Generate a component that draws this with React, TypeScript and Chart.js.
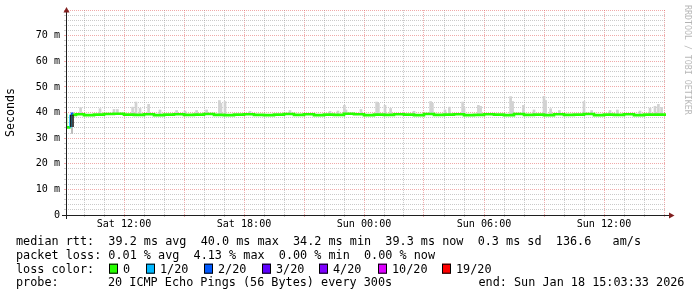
import React, { useEffect, useRef } from 'react';
import { Chart, registerables } from 'chart.js';

Chart.register(...registerables);

// ---------- data ----------
// time axis in hours since Sat 00:00
const X_MIN = 9.1;
const X_MAX = 39.1;

const xLabelHours = [12, 18, 24, 30, 36];
const xTickLabels = ['Sat 12:00', 'Sat 18:00', 'Sun 00:00', 'Sun 06:00', 'Sun 12:00'];

const yLabelValues = [0, 10, 20, 30, 40, 50, 60, 70];
const yTickLabels = ['0', '10 m', '20 m', '30 m', '40 m', '50 m', '60 m', '70 m'];

// median rtt (ms), stepped
const rttHours = [
  9.10, 9.33, 9.40, 9.48, 9.60, 10.0, 10.5, 11.0, 11.5, 12.0,
  12.5, 13.0, 13.5, 14.0, 14.5, 15.0, 15.5, 16.0, 16.5, 17.0,
  17.5, 18.0, 18.5, 19.0, 19.5, 20.0, 20.5, 21.0, 21.5, 22.0,
  22.5, 23.0, 23.5, 24.0, 24.5, 25.0, 25.5, 26.0, 26.5, 27.0,
  27.5, 28.0, 28.5, 29.0, 29.5, 30.0, 30.5, 31.0, 31.5, 32.0,
  32.5, 33.0, 33.5, 34.0, 34.5, 35.0, 35.5, 36.0, 36.5, 37.0,
  37.5, 38.0, 38.5, 39.1,
];
const rttMedian = [
  39.6, 34.2, 38.6, 39.5, 39.1, 39.3, 39.0, 39.2, 39.4, 39.5,
  39.2, 39.1, 39.3, 39.0, 39.2, 39.3, 39.1, 39.2, 39.4, 39.1,
  39.0, 39.2, 39.3, 39.1, 39.0, 39.2, 39.4, 39.1, 39.3, 39.0,
  39.2, 39.1, 39.5, 39.3, 39.0, 39.2, 39.1, 39.3, 39.2, 39.0,
  39.4, 39.1, 39.2, 39.3, 39.0, 39.1, 39.3, 39.2, 39.0, 39.4,
  39.1, 39.2, 39.0, 39.3, 39.1, 39.2, 39.4, 39.0, 39.2, 39.1,
  39.3, 39.0, 39.2, 39.2,
];
// index into lossColors
const rttLoss = [
  0, 1, 2, 0, 0, 0, 0, 0, 0, 0,
  0, 0, 0, 0, 0, 0, 0, 0, 0, 0,
  0, 0, 0, 0, 0, 0, 0, 0, 0, 0,
  0, 0, 0, 0, 0, 0, 0, 0, 0, 0,
  0, 0, 0, 0, 0, 0, 0, 0, 0, 0,
  0, 0, 0, 0, 0, 0, 0, 0, 0, 0,
  0, 0, 0, 0,
];

// smoke spikes (max ping per interval, ms)
const smokeBase = 39.2;
const smokeHours = [
  9.83, 10.80, 11.50, 11.67, 12.43, 12.60, 12.80, 13.23, 13.80, 14.63,
  15.05, 15.63, 16.13, 16.77, 16.85, 17.05, 18.30, 20.30, 22.30, 22.70,
  23.02, 23.10, 23.85, 24.63, 24.72, 25.05, 25.33, 26.50, 27.33, 27.42,
  28.05, 28.27, 28.93, 29.00, 29.72, 29.83, 31.33, 31.43, 31.97, 32.50,
  33.00, 33.08, 33.33, 33.77, 35.00, 35.38, 36.30, 36.67, 37.80, 38.30,
  38.55, 38.72, 38.88,
];
const smokeTops = [
  41.9, 41.5, 41.2, 41.2, 42.1, 44.1, 41.6, 43.2, 41.0, 40.8,
  40.6, 40.8, 41.0, 44.7, 43.6, 44.3, 40.5, 40.8, 40.5, 40.6,
  42.8, 41.0, 41.2, 44.1, 43.6, 42.8, 41.6, 40.5, 44.3, 43.6,
  41.0, 42.1, 44.1, 42.0, 42.8, 42.4, 46.2, 44.3, 42.8, 41.0,
  46.3, 44.7, 41.5, 40.8, 44.3, 40.8, 40.8, 41.0, 40.6, 41.7,
  42.4, 43.2, 42.0,
];

// the low dip at the start
const dipSmokeHours = [9.40];
const dipSmokeLow = [31.8];
const dipSmokeHigh = [34.0];
const dipEdgeHours = [9.34, 9.45];
const dipEdgeLow = [34.5, 34.5];
const dipEdgeHigh = [39.0, 39.0];

const lossLabels = ['0', '1/20', '2/20', '3/20', '4/20', '10/20', '19/20'];
const lossColors = ['#26ff00', '#00b8ff', '#0059ff', '#5e00ff', '#7e00ff', '#dd00ff', '#ff0000'];

const legendRtt = 'median rtt:  39.2 ms avg  40.0 ms max  34.2 ms min  39.3 ms now  0.3 ms sd  136.6   am/s';
const legendLoss = 'packet loss: 0.01 % avg  4.13 % max  0.00 % min  0.00 % now';
const legendProbe = '20 ICMP Echo Pings (56 Bytes) every 300s';
const legendEnd = 'end: Sun Jan 18 15:03:33 2026';
const watermark = 'RRDTOOL / TOBI OETIKER';

// ---------- layout / style ----------
const W = 697;
const H = 297;
const MONO = "'DejaVu Sans Mono', monospace";
const GRID = 'rgba(150,150,150,0.5)';
const MGRID = 'rgba(225,85,85,0.5)';
const AXIS = 'rgb(31,31,31)';
const ARROW = 'rgb(128,31,31)';
const SMOKE = '#d2d2d2';
const lossBoxX = [109, 146, 204, 262, 319, 378, 442];

const decorPlugin = {
  id: 'rrdDecor',
  afterDraw(chart: any) {
    const ctx = chart.ctx as CanvasRenderingContext2D;
    const { left, bottom } = chart.chartArea;
    ctx.save();
    // axes
    ctx.strokeStyle = AXIS;
    ctx.lineWidth = 1;
    ctx.beginPath();
    ctx.moveTo(62, bottom + 0.5);
    ctx.lineTo(670, bottom + 0.5);
    ctx.moveTo(left + 0.5, bottom + 4);
    ctx.lineTo(left + 0.5, 11);
    ctx.stroke();
    // arrows
    ctx.fillStyle = ARROW;
    ctx.beginPath();
    ctx.moveTo(669, bottom - 2.5);
    ctx.lineTo(674.5, bottom + 0.5);
    ctx.lineTo(669, bottom + 3.5);
    ctx.closePath();
    ctx.fill();
    ctx.beginPath();
    ctx.moveTo(left - 2.5, 12.5);
    ctx.lineTo(left + 0.5, 7);
    ctx.lineTo(left + 3.5, 12.5);
    ctx.closePath();
    ctx.fill();

    // watermark
    ctx.save();
    ctx.translate(684.5, 5);
    ctx.rotate(Math.PI / 2);
    ctx.scale(0.92, 1);
    ctx.font = `9px ${MONO}`;
    ctx.fillStyle = 'rgba(0,0,0,0.3)';
    ctx.textBaseline = 'alphabetic';
    ctx.textAlign = 'left';
    ctx.fillText(watermark, 0, 0);
    ctx.restore();

    // legend
    ctx.font = `11.8px ${MONO}`;
    ctx.fillStyle = '#000';
    ctx.textBaseline = 'alphabetic';
    ctx.textAlign = 'left';
    const b1 = 245.3, step = 13.7;
    ctx.fillText(legendRtt, 16, b1);
    ctx.fillText(legendLoss, 16, b1 + step);
    ctx.fillText('loss color:', 16, b1 + 2 * step);
    ctx.fillText('probe:', 16, b1 + 3 * step);
    ctx.fillText(legendProbe, 108, b1 + 3 * step);
    ctx.fillText(legendEnd, 478.5, b1 + 3 * step);
    const b3 = b1 + 2 * step;
    lossLabels.forEach((lab, i) => {
      const bx = lossBoxX[i];
      ctx.fillStyle = lossColors[i];
      ctx.fillRect(bx, b3 - 9, 9, 10);
      ctx.strokeStyle = '#000';
      ctx.strokeRect(bx + 0.5, b3 - 8.5, 8, 9);
      ctx.fillStyle = '#000';
      ctx.fillText(lab, bx + 14, b3);
    });
    ctx.restore();
  },
};

export default function App() {
  const ref = useRef<HTMLCanvasElement>(null);
  useEffect(() => {
    document.body.style.margin = '0';
    const canvas = ref.current!;
    const gridHours: number[] = [];
    for (let h = 10; h <= 39; h++) gridHours.push(h);
    const gridY: number[] = [];
    for (let v = 0; v <= 80; v += 2) gridY.push(v);

    const chart = new Chart(canvas, {
      type: 'bar',
      data: {
        datasets: [
          {
            type: 'bar',
            label: 'dip edge',
            data: dipEdgeHours.map((h, i) => ({ x: h, y: [dipEdgeLow[i], dipEdgeHigh[i]] })),
            backgroundColor: '#202020',
            barThickness: 1,
            grouped: false,
            order: 0,
          } as any,
          {
            type: 'line',
            label: 'median rtt',
            data: rttHours.map((h, i) => ({ x: h, y: rttMedian[i] })),
            borderColor: lossColors[0],
            borderWidth: 2.6,
            stepped: 'after',
            pointRadius: 0,
            borderCapStyle: 'butt',
            segment: {
              borderColor: (c: any) => lossColors[rttLoss[c.p0DataIndex]],
            },
            order: 1,
          } as any,
          {
            type: 'bar',
            label: 'smoke',
            data: smokeHours.map((h, i) => ({ x: h, y: [smokeBase, smokeTops[i]] })),
            backgroundColor: SMOKE,
            barThickness: 2,
            grouped: false,
            order: 2,
          } as any,
          {
            type: 'bar',
            label: 'dip smoke',
            data: dipSmokeHours.map((h, i) => ({ x: h, y: [dipSmokeLow[i], dipSmokeHigh[i]] })),
            backgroundColor: '#b0b0b0',
            barThickness: 1,
            grouped: false,
            order: 3,
          } as any,
        ],
      },
      options: {
        animation: false,
        responsive: false,
        devicePixelRatio: 1,
        layout: { padding: { left: 0, right: 31, top: 9, bottom: 0 } },
        plugins: {
          legend: { display: false },
          tooltip: { enabled: false },
        },
        scales: {
          x: {
            type: 'linear',
            min: X_MIN,
            max: X_MAX,
            offset: false,
            afterBuildTicks: (s: any) => {
              s.ticks = gridHours.map((v) => ({ value: v }));
            },
            afterFit: (s: any) => {
              s.height = 82;
            },
            grid: {
              offset: false,
              color: (c: any) => (c.tick && c.tick.value % 3 === 0 ? MGRID : GRID),
              tickColor: (c: any) => (c.tick && c.tick.value % 3 === 0 ? MGRID : GRID),
              lineWidth: 1,
              tickLength: 2,
            },
            border: { display: false, dash: [1, 1] },
            ticks: {
              autoSkip: false,
              maxRotation: 0,
              minRotation: 0,
              padding: 1,
              color: '#000',
              font: { family: MONO, size: 10.1 },
              callback: (v: any) => {
                const i = xLabelHours.indexOf(Number(v));
                return i >= 0 ? xTickLabels[i] : '';
              },
            },
          },
          y: {
            type: 'linear',
            min: 0,
            max: 80,
            afterBuildTicks: (s: any) => {
              s.ticks = gridY.map((v) => ({ value: v }));
            },
            afterFit: (s: any) => {
              s.width = 66;
            },
            grid: {
              color: (c: any) => (c.tick && c.tick.value % 10 === 0 ? MGRID : GRID),
              tickColor: (c: any) => (c.tick && c.tick.value % 10 === 0 ? MGRID : GRID),
              lineWidth: 1,
              tickLength: 2,
            },
            border: { display: false, dash: [1, 1] },
            ticks: {
              autoSkip: false,
              padding: 4,
              color: '#000',
              font: { family: MONO, size: 10.1 },
              callback: (v: any) => {
                const i = yLabelValues.indexOf(Number(v));
                return i >= 0 ? yTickLabels[i] : '';
              },
            },
            title: {
              display: true,
              text: 'Seconds',
              color: '#000',
              font: { family: MONO, size: 11.6 },
              padding: { top: 4, bottom: 4 },
            },
          },
        },
      } as any,
      plugins: [decorPlugin],
    });
    return () => chart.destroy();
  }, []);

  return (
    <div style={{ position: 'absolute', left: 0, top: 0, width: W, height: H, background: '#fff' }}>
      <canvas ref={ref} width={W} height={H} style={{ display: 'block', width: W, height: H }} />
    </div>
  );
}
